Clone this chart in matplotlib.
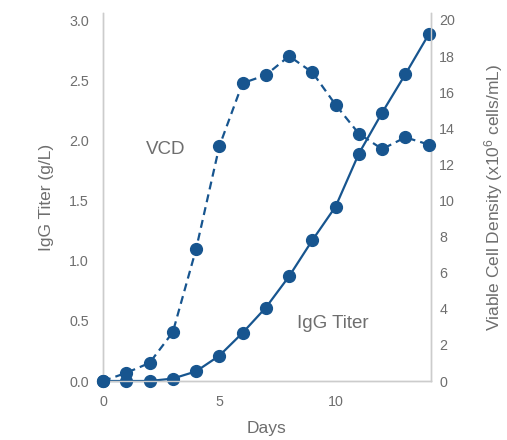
import matplotlib
matplotlib.use("Agg")
import matplotlib.pyplot as plt

# data
days = [0, 1, 2, 3, 4, 5, 6, 7, 8, 9, 10, 11, 12, 13, 14]
igg_titer = [0.0, 0.0, 0.0, 0.02, 0.08, 0.21, 0.40, 0.61, 0.87, 1.17, 1.45, 1.89, 2.23, 2.55, 2.88]
vcd = [0.0, 0.45, 1.0, 2.7, 7.3, 13.0, 16.5, 16.95, 18.0, 17.1, 15.3, 13.7, 12.85, 13.5, 13.1]

left_ticks = [0.0, 0.5, 1.0, 1.5, 2.0, 2.5, 3.0]
right_ticks = [0, 2, 4, 6, 8, 10, 12, 14, 16, 18, 20]
x_ticks = [0, 5, 10]

blue = "#17558f"
grey_text = "#6e6e6e"
spine_col = "#cccccc"

plt.rcParams['font.family'] = ['Liberation Sans', 'DejaVu Sans']
plt.rcParams['mathtext.fontset'] = 'custom'
plt.rcParams['mathtext.rm'] = 'Liberation Sans'
plt.rcParams['mathtext.default'] = 'regular'

fig = plt.figure(figsize=(5.07, 4.40), dpi=100)
ax = fig.add_axes([103 / 507, (440 - 381) / 440, (431 - 103) / 507, (381 - 13) / 440])
ax2 = ax.twinx()

ax.plot(days, igg_titer, color=blue, lw=1.6, marker='o', markersize=8.5, clip_on=False, zorder=3)
ax2.plot(days, vcd, color=blue, lw=1.6, marker='o', markersize=8.5, clip_on=False,
         dashes=(3.6, 2.3), zorder=3)

ax.set_xlim(0, 14.1)
ax.set_ylim(0, 3.0 * 368 / 361)
ax2.set_ylim(0, 20 * 368 / 361)
ax.set_xticks(x_ticks)
ax.set_yticks(left_ticks)
ax.set_yticklabels([f"{v:.1f}" for v in left_ticks])
ax2.set_yticks(right_ticks)

for a in (ax, ax2):
    a.spines['top'].set_visible(False)
    for s in ('left', 'right', 'bottom'):
        a.spines[s].set_color(spine_col)
        a.spines[s].set_linewidth(1.0)
    a.tick_params(length=0, labelsize=10.3, colors=grey_text)
ax.tick_params(axis='y', pad=10)
ax.tick_params(axis='x', pad=10)
ax2.tick_params(axis='y', pad=6)

ax.set_xlabel("Days", fontsize=12.5, color=grey_text, labelpad=9)
ax.set_ylabel("IgG Titer (g/L)", fontsize=12.5, color=grey_text, labelpad=11)
ax2.set_ylabel("Viable Cell Density (x10$^{6}$ cells/mL)", fontsize=12.5, color=grey_text, labelpad=19)

ax.text(2.7, 1.92, "VCD", fontsize=13.5, color=grey_text, ha='center', va='center')
ax.text(9.9, 0.48, "IgG Titer", fontsize=13.5, color=grey_text, ha='center', va='center')

fig.savefig("out.png", dpi=100)
